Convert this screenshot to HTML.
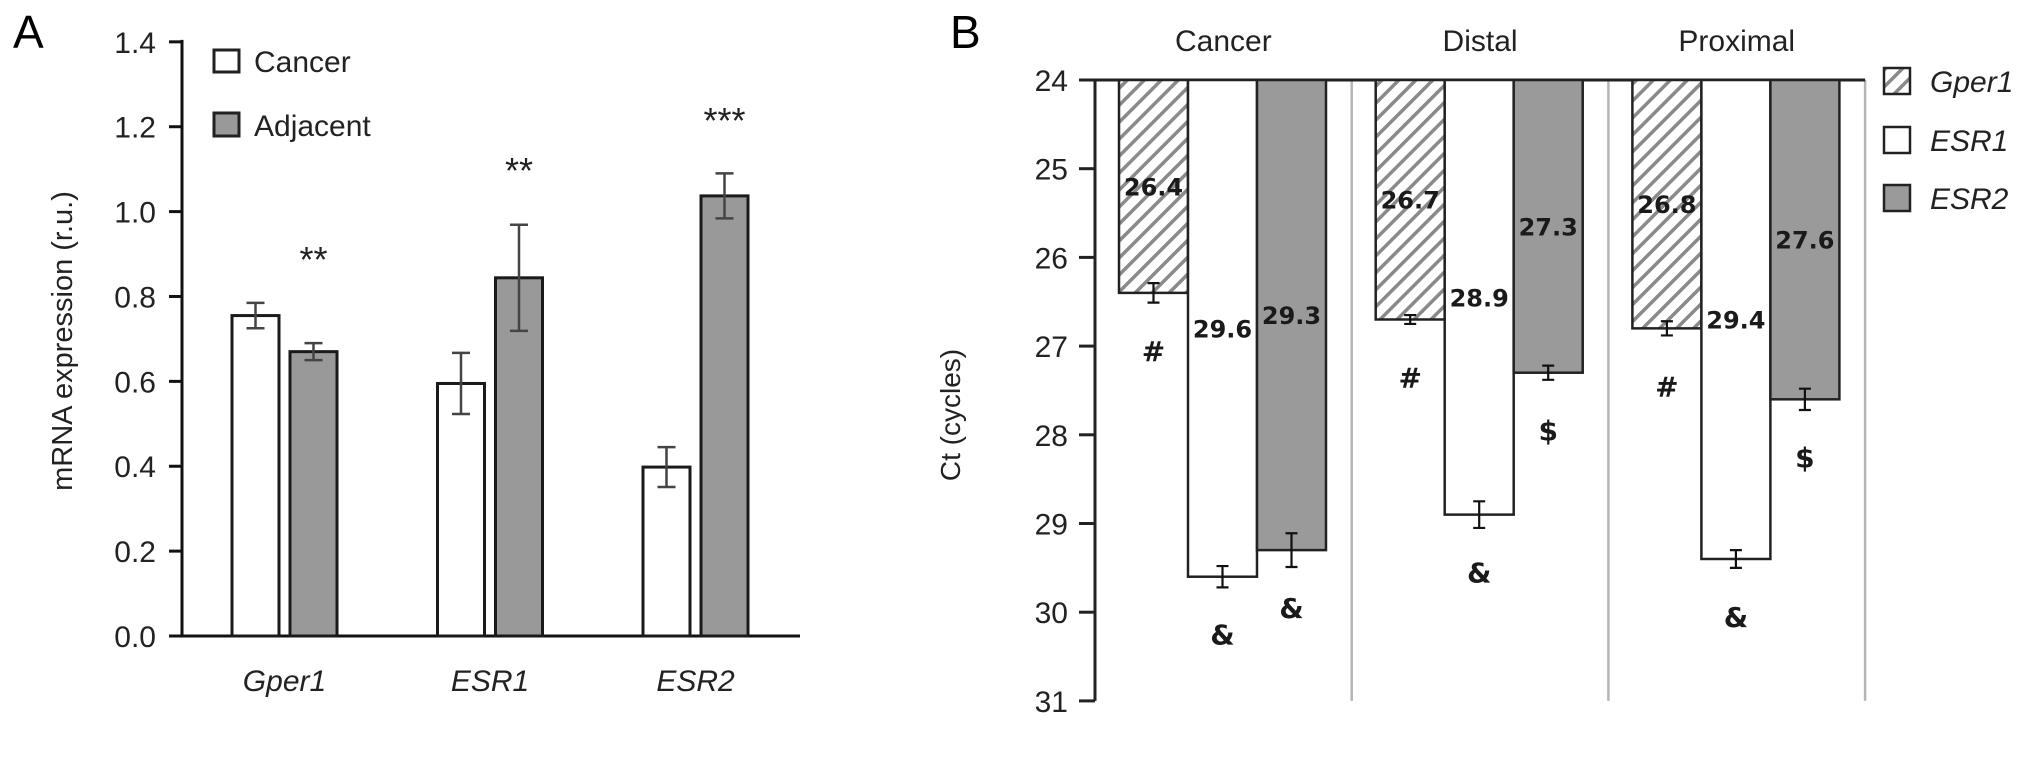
<!DOCTYPE html>
<html><head><meta charset="utf-8"><style>
html,body{margin:0;padding:0;background:#fff;}
svg{display:block;font-family:"Liberation Sans",Arial,sans-serif;}
</style></head><body>
<svg id="chart" width="2032" height="758" viewBox="0 0 2032 758" xmlns="http://www.w3.org/2000/svg">
<defs>
<pattern id="hatch" patternUnits="userSpaceOnUse" width="12" height="12" patternTransform="rotate(45)">
<rect width="12" height="12" fill="#fff"/>
<rect x="0" y="0" width="3.5" height="12" fill="#8a8a8a"/>
</pattern>
</defs>
<g id="panelA"></g>
<g id="panelB"></g>
</svg>
<script>
// Panel A data
var aCategories = ["Gper1","ESR1","ESR2"];
var aCancer = [0.755, 0.595, 0.398];
var aCancerErr = [0.03, 0.072, 0.047];
var aAdjacent = [0.67, 0.844, 1.037];
var aAdjacentErr = [0.02, 0.125, 0.053];
var aStars = ["**","**","***"];
var aStarLevel = [0.90, 1.11, 1.228];
var aTicks = [0.0,0.2,0.4,0.6,0.8,1.0,1.2,1.4];

// Panel B data
var bGroups = ["Cancer","Distal","Proximal"];
var bGper1 = [26.4, 26.7, 26.8];
var bGper1Err = [0.11, 0.05, 0.08];
var bESR1 = [29.6, 28.9, 29.4];
var bESR1Err = [0.12, 0.15, 0.1];
var bESR2 = [29.3, 27.3, 27.6];
var bESR2Err = [0.19, 0.08, 0.12];
var bGper1Marks = ["#","#","#"];
var bESR1Marks = ["&","&","&"];
var bESR2Marks = ["&","$","$"];
var bTicks = [24,25,26,27,28,29,30,31];

var NS="http://www.w3.org/2000/svg";
function mk(parent, tag, attrs, text){
  var e=document.createElementNS(NS,tag);
  for(var k in attrs) e.setAttribute(k, attrs[k]);
  if(text!==undefined) e.textContent=text;
  parent.appendChild(e); return e;
}

// ---------- Panel A ----------
(function(){
  var g=document.getElementById('panelA');
  var x0=182, y0=636, pxPerUnit=424.4;
  function ay(v){return y0 - v*pxPerUnit;}
  function gx(i){return 232 + i*205.5;}
  var bw=47, gap=11;
  var t=mk(g,'text',{x:13,y:48,'font-size':46},'A');
   
  var ax=mk(g,'line',{x1:x0,y1:ay(1.4)-2,x2:x0,y2:y0,stroke:'#111','stroke-width':3});
   
  var bx=mk(g,'line',{x1:169,y1:y0,x2:800,y2:y0,stroke:'#111','stroke-width':3});
   
  aTicks.forEach(function(v){
    var tk=mk(g,'line',{x1:169,y1:ay(v),x2:x0,y2:ay(v),stroke:'#111','stroke-width':3});
     
    var tl=mk(g,'text',{x:156,y:ay(v)+11,'font-size':30,'text-anchor':'end',fill:'#222'},v.toFixed(1));
     
  });
  var yt=mk(g,'text',{x:0,y:0,'font-size':29,'text-anchor':'middle',fill:'#222',transform:'translate(72,341) rotate(-90)'},'mRNA expression (r.u.)');
   
  var l1=mk(g,'rect',{x:214,y:50,width:25,height:22,fill:'#fff',stroke:'#222','stroke-width':3});
   
  var lt1=mk(g,'text',{x:254,y:72,'font-size':30,fill:'#222'},'Cancer');
   
  var l2=mk(g,'rect',{x:214,y:113,width:25,height:23,fill:'#999',stroke:'#222','stroke-width':3});
   
  var lt2=mk(g,'text',{x:254,y:136,'font-size':30,fill:'#222'},'Adjacent');
   
  aCategories.forEach(function(c,i){
    var xs=[gx(i), gx(i)+bw+gap];
    var vals=[aCancer[i],aAdjacent[i]], errs=[aCancerErr[i],aAdjacentErr[i]];
    var fills=['#fff','#999'], names=['bar-cancer-','bar-adjacent-'];
    for(var s=0;s<2;s++){
      var r=mk(g,'rect',{x:xs[s],y:ay(vals[s]),width:bw,height:y0-ay(vals[s]),fill:fills[s],stroke:'#1a1a1a','stroke-width':3});
       
      var cx=xs[s]+bw/2;
      var e=mk(g,'path',{d:'M'+(cx-9)+','+ay(vals[s]+errs[s])+'H'+(cx+9)+'M'+cx+','+ay(vals[s]+errs[s])+'V'+ay(vals[s]-errs[s])+'M'+(cx-9)+','+ay(vals[s]-errs[s])+'H'+(cx+9),stroke:'#444','stroke-width':2.5,fill:'none'});
       
    }
    var sx=gx(i)+bw+gap+bw/2;
    var st=mk(g,'text',{x:sx,y:ay(aStarLevel[i])+18,'font-size':36,'text-anchor':'middle',fill:'#222'},aStars[i]);
     
    var xl=mk(g,'text',{x:gx(i)+bw+gap/2,y:691,'font-size':30,'text-anchor':'middle','font-style':'italic',fill:'#222'},c);
     
  });
})();

// ---------- Panel B ----------
(function(){
  var g=document.getElementById('panelB');
  var x0=1095, yTop=80, pxPer=88.7;
  function by(v){return yTop + (v-24)*pxPer;}
  var gw=256.7, bw=69;
  function gx(i){return x0 + i*gw;}
  var t=mk(g,'text',{x:950,y:48,'font-size':46},'B');
   
  bGroups.forEach(function(c,i){
    var gl=mk(g,'line',{x1:gx(i+1),y1:yTop,x2:gx(i+1),y2:by(31),stroke:'#b5b5b5','stroke-width':2.5});
     
  });
  var ax=mk(g,'line',{x1:x0,y1:yTop,x2:x0,y2:by(31),stroke:'#222','stroke-width':3});
   
  var tx=mk(g,'line',{x1:1079,y1:yTop,x2:gx(3),y2:yTop,stroke:'#222','stroke-width':3});
   
  bTicks.forEach(function(v){
    var tk=mk(g,'line',{x1:1079,y1:by(v),x2:x0,y2:by(v),stroke:'#222','stroke-width':3});
     
    var tl=mk(g,'text',{x:1068,y:by(v)+11,'font-size':30,'text-anchor':'end',fill:'#222'},String(v));
     
  });
  var yt=mk(g,'text',{x:0,y:0,'font-size':28,'text-anchor':'middle',fill:'#222',transform:'translate(960,415) rotate(-90)'},'Ct (cycles)');
   
  var legNames=['Gper1','ESR1','ESR2'], legFills=['url(#hatch)','#fff','#9a9a9a'], legY=[68,127,185];
  for(var k=0;k<3;k++){
    var sw=mk(g,'rect',{x:1884,y:legY[k],width:26,height:26,fill:legFills[k],stroke:'#222','stroke-width':2.5});
     
    var lt=mk(g,'text',{x:1930,y:legY[k]+24,'font-size':30,'font-style':'italic',fill:'#222'},legNames[k]);
     
  }
  bGroups.forEach(function(c,i){
    var gl=mk(g,'text',{x:gx(i)+gw/2,y:51,'font-size':30,'text-anchor':'middle',fill:'#222'},c);
     
    var vals=[bGper1[i],bESR1[i],bESR2[i]], errs=[bGper1Err[i],bESR1Err[i],bESR2Err[i]];
    var marks=[bGper1Marks[i],bESR1Marks[i],bESR2Marks[i]];
    var fills=['url(#hatch)','#fff','#9a9a9a'];
    for(var s=0;s<3;s++){
      var x=gx(i)+24+s*bw;
      var r=mk(g,'rect',{x:x,y:yTop,width:bw,height:by(vals[s])-yTop,fill:fills[s],stroke:'#222','stroke-width':2.5});
       
      var cx=x+bw/2;
      var e=mk(g,'path',{d:'M'+(cx-6)+','+by(vals[s]-errs[s])+'H'+(cx+6)+'M'+cx+','+by(vals[s]-errs[s])+'V'+by(vals[s]+errs[s])+'M'+(cx-6)+','+by(vals[s]+errs[s])+'H'+(cx+6),stroke:'#111','stroke-width':2.2,fill:'none'});
       
      var vl=mk(g,'text',{x:cx,y:(yTop+by(vals[s]))/2+9,'font-size':24,'font-weight':'bold','text-anchor':'middle',fill:'#1a1a1a','font-family':'"DejaVu Sans",sans-serif'},vals[s].toFixed(1));
       
      var mkT=mk(g,'text',{x:cx,y:by(vals[s])+68,'font-size':28,'font-weight':'bold','text-anchor':'middle',fill:'#1a1a1a','font-family':'"DejaVu Sans",sans-serif'},marks[s]);
       
    }
  });
})();
</script>
</body></html>
